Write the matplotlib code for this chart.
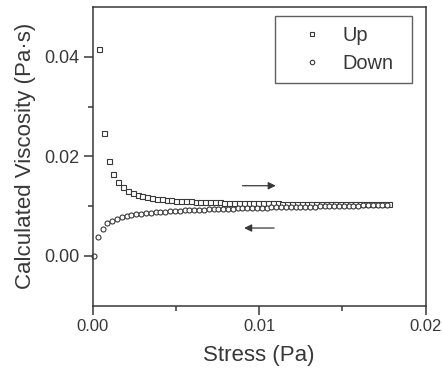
import matplotlib
matplotlib.use("Agg")
import matplotlib.pyplot as plt
from matplotlib.ticker import FixedLocator

plt.rcParams['font.family'] = ['Liberation Sans', 'DejaVu Sans']

# ---- data ----
up_stress = [0.00038, 0.00067, 0.00096, 0.00125, 0.00154, 0.00183, 0.00212, 0.00241,
             0.00270, 0.00299, 0.00328, 0.00357, 0.00386, 0.00415, 0.00444, 0.00473,
             0.00502, 0.00531, 0.00560, 0.00589, 0.00618, 0.00647, 0.00676, 0.00705,
             0.00734, 0.00763, 0.00792, 0.00821, 0.00850, 0.00879, 0.00908, 0.00937,
             0.00966, 0.00995, 0.01024, 0.01053, 0.01082, 0.01111, 0.01140, 0.01169,
             0.01198, 0.01227, 0.01256, 0.01285, 0.01314, 0.01343, 0.01372, 0.01401,
             0.01430, 0.01459, 0.01488, 0.01517, 0.01546, 0.01575, 0.01604, 0.01633,
             0.01662, 0.01691, 0.01720, 0.01749, 0.01778]
up_visc = [0.0416, 0.0247, 0.0191, 0.0164, 0.0149, 0.0139, 0.0131, 0.0127,
           0.0123, 0.0120, 0.0118, 0.0116, 0.0115, 0.0114, 0.0113, 0.0112,
           0.0111, 0.0111, 0.0110, 0.0110, 0.0109, 0.0109, 0.0109, 0.0108,
           0.0108, 0.0108, 0.0107, 0.0107, 0.0107, 0.0107, 0.0107, 0.0106,
           0.0106, 0.0106, 0.0106, 0.0106, 0.0106, 0.0106, 0.0105, 0.0105,
           0.0105, 0.0105, 0.0105, 0.0105, 0.0105, 0.0105, 0.0105, 0.0104,
           0.0104, 0.0104, 0.0104, 0.0104, 0.0104, 0.0104, 0.0104, 0.0104,
           0.0104, 0.0104, 0.0104, 0.0105, 0.0105]

down_stress = [0.00008, 0.00030, 0.00059, 0.00088, 0.00117, 0.00146, 0.00175, 0.00204,
               0.00233, 0.00262, 0.00291, 0.00320, 0.00349, 0.00378, 0.00407, 0.00436,
               0.00465, 0.00494, 0.00523, 0.00552, 0.00581, 0.00610, 0.00639, 0.00668,
               0.00697, 0.00726, 0.00755, 0.00784, 0.00813, 0.00842, 0.00871, 0.00900,
               0.00929, 0.00958, 0.00987, 0.01016, 0.01045, 0.01074, 0.01103, 0.01132,
               0.01161, 0.01190, 0.01219, 0.01248, 0.01277, 0.01306, 0.01335, 0.01364,
               0.01393, 0.01422, 0.01451, 0.01480, 0.01509, 0.01538, 0.01567, 0.01596,
               0.01625, 0.01654, 0.01683, 0.01712, 0.01741, 0.01770]
down_visc = [0.0000, 0.0037, 0.0054, 0.0066, 0.0071, 0.0075, 0.0079, 0.0081,
             0.0083, 0.0084, 0.0085, 0.0086, 0.0087, 0.0088, 0.0089, 0.0089,
             0.0090, 0.0091, 0.0091, 0.0092, 0.0092, 0.0093, 0.0093, 0.0093,
             0.0094, 0.0094, 0.0094, 0.0095, 0.0095, 0.0095, 0.0096, 0.0096,
             0.0096, 0.0097, 0.0097, 0.0097, 0.0097, 0.0098, 0.0098, 0.0098,
             0.0098, 0.0098, 0.0099, 0.0099, 0.0099, 0.0099, 0.0099, 0.0100,
             0.0100, 0.0100, 0.0100, 0.0100, 0.0101, 0.0101, 0.0101, 0.0101,
             0.0102, 0.0102, 0.0102, 0.0102, 0.0103, 0.0103]

series_labels = ["Up", "Down"]
x_ticks = [0.00, 0.01, 0.02]
x_tick_labels = ["0.00", "0.01", "0.02"]
y_ticks = [0.00, 0.02, 0.04]
y_tick_labels = ["0.00", "0.02", "0.04"]

ink = "#383838"

fig = plt.figure(figsize=(4.42, 3.78), dpi=100)
ax = fig.add_axes([0.2097, 0.1913, 0.7530, 0.7902])

ax.plot(up_stress, up_visc, linestyle='none', marker='s', markersize=3.6,
        markerfacecolor='white', markeredgecolor=ink, markeredgewidth=0.8,
        label=series_labels[0], clip_on=False)
ax.plot(down_stress, down_visc, linestyle='none', marker='o', markersize=3.6,
        markerfacecolor='white', markeredgecolor=ink, markeredgewidth=0.8,
        label=series_labels[1], clip_on=False)

ax.set_xlim(0, 0.02)
ax.set_ylim(-0.01, 0.05)
ax.xaxis.set_major_locator(FixedLocator(x_ticks))
ax.set_xticklabels(x_tick_labels)
ax.xaxis.set_minor_locator(FixedLocator([0.005, 0.015]))
ax.yaxis.set_major_locator(FixedLocator(y_ticks))
ax.set_yticklabels(y_tick_labels)
ax.yaxis.set_minor_locator(FixedLocator([0.01, 0.03]))

ax.tick_params(axis='both', which='major', direction='out', length=6.5, width=1.1,
               color=ink, labelcolor=ink, pad=3)
ax.tick_params(axis='both', which='minor', direction='out', length=3.5, width=1.1,
               color=ink)
ax.tick_params(axis='x', labelsize=12)
ax.tick_params(axis='y', labelsize=13)
for s in ax.spines.values():
    s.set_color(ink)
    s.set_linewidth(1.1)

ax.set_xlabel("Stress (Pa)", fontsize=16, color=ink, labelpad=8)
ax.set_ylabel("Calculated Viscosity (Pa·s)", fontsize=16, color=ink, labelpad=6)

# direction arrows
ax.annotate("", xy=(0.0110, 0.0141), xytext=(0.0090, 0.0141),
            arrowprops=dict(arrowstyle='-|>', color=ink, lw=0.9,
                            mutation_scale=11, shrinkA=0, shrinkB=0))
ax.annotate("", xy=(0.0091, 0.0056), xytext=(0.0109, 0.0056),
            arrowprops=dict(arrowstyle='-|>', color=ink, lw=0.9,
                            mutation_scale=11, shrinkA=0, shrinkB=0))

leg = ax.legend(loc='upper left', bbox_to_anchor=(0.547, 0.749, 0.412, 0.221),
                mode='expand', fontsize=14.4,
                frameon=True, fancybox=False, edgecolor=ink, borderpad=0.5,
                handlelength=2.7, handletextpad=0.2, labelspacing=0.45,
                markerscale=0.9, borderaxespad=0)
leg.get_frame().set_linewidth(1.0)
for t in leg.get_texts():
    t.set_color(ink)

fig.savefig("out.png", dpi=100)
